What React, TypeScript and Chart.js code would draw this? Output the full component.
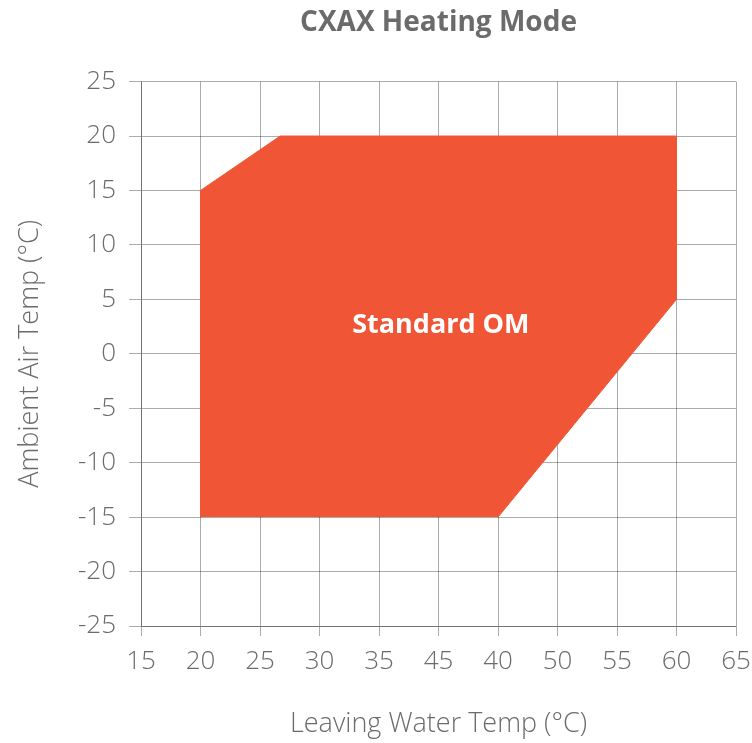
import React, { useEffect, useRef } from "react";
import { Chart, registerables } from "chart.js";

Chart.register(...registerables);

// Tick labels as printed on the reference (note the 45/40 order as shown)
const xTickLabels = ["15", "20", "25", "30", "35", "45", "40", "50", "55", "60", "65"];
const xMin = 15;
const xMax = 65;
const yMin = -25;
const yMax = 25;
const stepSize = 5;

// Operating-map envelope vertices (Leaving Water Temp, Ambient Air Temp)
const envelopeX = [20, 20, 26.7, 60, 60, 45];
const envelopeY = [-15, 15, 20, 20, 5, -15];

const regionLabel = "Standard OM";
const regionLabelX = 40.2;
const regionLabelY = 2.6;

const chartTitle = "CXAX Heating Mode";
const xTitle = "Leaving Water Temp (°C)";
const yTitle = "Ambient Air Temp (°C)";

const GRAY = "#6b6b6b";
const FILL = "#f05535";
const GRID = "rgba(0,0,0,0.33)";

export default function App() {
  const ref = useRef<HTMLCanvasElement | null>(null);

  useEffect(() => {
    if (!ref.current) return;
    const labelPlugin = {
      id: "regionLabel",
      afterDraw(chart: any) {
        const { ctx, scales } = chart;
        const px = scales.x.getPixelForValue(regionLabelX);
        const py = scales.y.getPixelForValue(regionLabelY);
        ctx.save();
        ctx.fillStyle = "#ffffff";
        ctx.font = "bold 27px 'Open Sans', sans-serif";
        ctx.textAlign = "center";
        ctx.textBaseline = "middle";
        ctx.fillText(regionLabel, px, py);
        ctx.restore();
      },
    };

    const chart = new Chart(ref.current, {
      type: "scatter",
      data: {
        datasets: [
          {
            label: regionLabel,
            data: envelopeX.map((x, i) => ({ x, y: envelopeY[i] })),
            showLine: true,
            fill: "shape",
            backgroundColor: FILL,
            borderColor: FILL,
            borderWidth: 1,
            pointRadius: 0,
            tension: 0,
          } as any,
        ],
      },
      options: {
        animation: false,
        responsive: false,
        maintainAspectRatio: false,
        layout: { padding: { left: 0, right: 16, top: 0, bottom: 0 } },
        plugins: {
          legend: { display: false },
          tooltip: { enabled: false },
          title: {
            display: true,
            text: chartTitle,
            fullSize: false,
            color: GRAY,
            font: { family: "'Open Sans', sans-serif", size: 28, weight: "bold" },
            padding: { top: 6, bottom: 42 },
          },
        },
        scales: {
          x: {
            type: "linear",
            min: xMin,
            max: xMax,
            z: 1,
            afterFit: (s: any) => {
              s.height = 117;
              s.paddingLeft = 0;
              s.paddingRight = 0;
            },
            ticks: {
              stepSize,
              color: GRAY,
              padding: 10,
              maxRotation: 0,
              autoSkip: false,
              font: { family: "'Open Sans', sans-serif", size: 26, weight: 300 },
              callback: (_v: any, i: number) => xTickLabels[i],
            },
            grid: { color: GRID, tickLength: 10, lineWidth: 1 },
            border: { color: GRID },
            title: {
              display: true,
              text: xTitle,
              color: GRAY,
              font: { family: "'Open Sans', sans-serif", size: 27, weight: 300 },
              padding: { top: 0, bottom: 2 },
            },
          },
          y: {
            type: "linear",
            min: yMin,
            max: yMax,
            z: 1,
            afterFit: (s: any) => {
              s.width = 141;
            },
            ticks: {
              stepSize,
              color: GRAY,
              padding: 13,
              font: { family: "'Open Sans', sans-serif", size: 26, weight: 300 },
            },
            grid: { color: GRID, tickLength: 12, lineWidth: 1 },
            border: { color: GRID },
            title: {
              display: true,
              text: yTitle,
              color: GRAY,
              font: { family: "'Open Sans', sans-serif", size: 27, weight: 300 },
              padding: { top: 14, bottom: 0 },
            },
          },
        },
      },
      plugins: [labelPlugin],
    });
    return () => chart.destroy();
  }, []);

  return (
    <div style={{ position: "absolute", left: 0, top: 0, width: 752, height: 743 }}>
      <canvas ref={ref} width={752} height={743} style={{ width: 752, height: 743 }} />
    </div>
  );
}
